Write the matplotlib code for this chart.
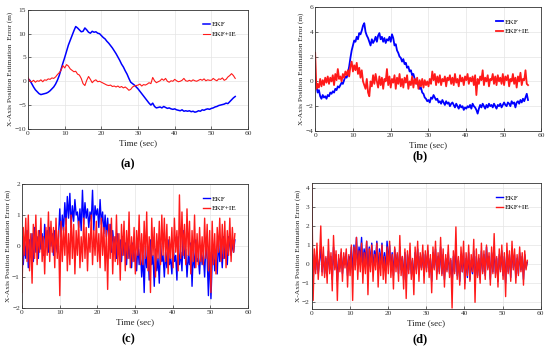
import numpy as np
import matplotlib
matplotlib.use("Agg")
import matplotlib.pyplot as plt

plt.rcParams['font.family'] = ['Liberation Serif', 'DejaVu Serif']

# ---- (a) sampled every 0.5 s ----
ekf_a = [0.5, 0.2, -0.5, -1.2, -1.8, -2.2, -2.6, -2.8, -2.7, -2.6, -2.5, -2.3, -2.0, -1.6, -1.2, -0.6,
         0.2, 1.2, 2.5, 3.8, 5.0, 6.3, 7.6, 8.6, 9.6, 10.6, 11.5, 11.2, 10.8, 10.4, 10.5, 11.2,
         10.8, 10.3, 10.1, 10.5, 10.3, 10.4, 10.1, 10.0, 9.6, 9.2, 8.9, 8.4, 8.0, 7.5, 7.0, 6.4,
         5.8, 5.1, 4.4, 3.6, 3.0, 2.2, 1.5, 0.6, -0.2, -0.5, -0.8, -1.2, -1.6, -2.1, -2.6, -3.1,
         -3.6, -4.1, -4.6, -5.0, -4.6, -5.3, -5.6, -5.5, -5.4, -5.6, -5.3, -5.5, -5.7, -5.6, -5.8, -5.9,
         -5.8, -6.0, -6.1, -6.2, -6.0, -6.3, -6.2, -6.3, -6.2, -6.4, -6.3, -6.5, -6.4, -6.2, -6.3, -6.0,
         -6.1, -5.9, -5.8, -5.9, -5.7, -5.6, -5.4, -5.3, -5.1, -5.0, -4.9, -4.8, -4.6, -4.7, -4.3, -3.9,
         -3.5, -3.2]
ekfie_a = [0.8, 0.0, -0.1, 0.2, -0.2, 0.1, 0.0, 0.3, -0.1, 0.3, 0.2, 0.5, 0.4, 0.7, 0.6, 0.9,
           1.4, 1.8, 2.3, 3.3, 2.8, 3.5, 3.2, 2.6, 2.3, 2.0, 2.1, 1.5, 1.3, 0.6, -0.5, -0.9,
           0.2, 1.0, 0.4, -0.3, 0.1, 0.3, -0.1, 0.0, -0.2, -0.4, -0.6, -0.8, -0.9, -0.8, -1.1, -1.0,
           -1.2, -1.0, -1.3, -1.1, -1.4, -1.2, -1.5, -1.9, -1.7, -1.2, -1.0, -0.9, -0.8, -0.6, -1.0, -0.7,
           -0.8, -0.6, -0.3, -0.5, 0.8, 0.1, -0.3, -0.1, 0.1, 0.5, 0.2, 0.6, 0.0, -0.2, 0.1, 0.0,
           0.4, 0.1, -0.1, 0.0, 0.2, 0.6, 0.1, 0.0, 0.2, 0.0, 0.3, 0.1, 0.0, 0.2, 0.4, 0.2,
           0.5, 0.1, 0.3, 0.2, 0.2, 0.6, 0.3, 0.1, 0.5, 0.4, 0.7, 0.2, 0.4, 0.9, 1.2, 1.6,
           1.2, 0.6]

# ---- (b) ----
ekf_b = [0.3, -0.4, -0.9, -0.7, -1.2, -1.4, -1.1, -1.3, -1.2, -1.4,
         -1.1, -1.2, -0.9, -1.0, -0.8, -0.9, -0.6, -0.7, -0.4, -0.5,
         -0.3, -0.1, -0.2, 0.1, 0.4, 0.3, 0.7, 1.2, 1.9, 2.5,
         2.9, 3.3, 3.2, 3.6, 3.4, 3.9, 3.8, 4.1, 4.5, 4.7,
         4.0, 3.7, 3.5, 3.2, 2.9, 3.4, 3.1, 3.3, 3.6, 3.2,
         3.7, 3.9, 3.4, 3.6, 3.2, 3.5, 3.1, 3.4, 3.3, 3.6,
         3.2, 3.8, 3.5, 2.9, 3.0, 2.5, 2.3, 2.0, 1.9, 1.6,
         1.8, 1.4, 1.5, 1.1, 1.2, 0.8, 0.9, 0.5, 0.6, 0.2,
         0.1, -0.2, -0.3, -0.6, -0.5, -0.9, -1.0, -1.3, -1.4, -1.6,
         -1.5, -1.7, -1.3, -1.4, -1.1, -1.3, -1.5, -1.4, -1.7, -1.6,
         -1.8, -1.5, -1.7, -1.9, -1.6, -1.8, -1.7, -2.0, -1.8, -1.7,
         -1.9, -2.1, -1.8, -2.0, -2.2, -1.9, -2.1, -2.0, -2.3, -2.1,
         -2.2, -2.0, -2.1, -1.9, -2.2, -1.8, -2.0, -2.1, -2.3, -2.6,
         -2.2, -1.9, -2.1, -1.8, -2.0, -2.2, -1.9, -2.1, -1.8, -2.0,
         -1.9, -2.1, -1.8, -2.0, -2.2, -1.9, -2.0, -1.8, -2.1, -1.9,
         -1.7, -1.9, -2.0, -1.7, -1.8, -2.0, -1.6, -1.8, -1.7, -2.1,
         -1.7, -1.6, -1.8, -1.5, -1.7, -1.4, -1.6, -1.3, -1.0, -1.5]
ekfie_b = [2.3, -0.6, -0.2, -0.5, 0.2, -0.4, 0.1, -0.3, 0.3, -0.1,
           0.4, -0.2, 0.3, 0.0, 0.5, -0.3, 0.6, 0.1, 1.0, 0.2,
           0.4, 0.0, 0.6, 0.3, 0.8, 0.5, 0.9, 0.4, 1.2, 1.6,
           0.8, 1.3, 0.9, 1.5, 0.6, 1.1, 0.3, 0.9, 0.0, -0.3,
           -0.6, 0.2, -0.9, -1.2, 0.0, -0.4, 0.5, -0.2, 0.6, 0.0,
           -0.5, 0.4, -0.3, 0.3, -0.6, 0.2, 0.0, 1.0, -0.3, 0.4,
           -0.5, 0.2, -0.1, 0.5, -0.6, 0.3, -0.2, 0.6, -0.4, 0.2,
           -0.5, 0.3, -0.1, 0.5, -0.6, 0.0, -0.3, 0.4, -0.5, 0.2,
           -0.2, 0.3, -0.6, 0.1, -0.4, 0.2, -0.5, 0.1, -0.3, 0.0,
           -0.4, 0.2, -0.2, 0.8, 0.1, 0.6, -0.3, 0.4, -0.1, 0.5,
           -0.3, 0.2, 0.0, 0.4, -0.4, 0.3, 0.1, 0.5, -0.2, 0.3,
           -0.3, 0.6, -0.1, 0.2, -0.4, 0.5, 0.0, 0.3, -0.3, 0.4,
           0.1, 0.6, -0.2, 0.3, 0.0, 0.4, -0.3, 0.5, -1.1, 0.2,
           -0.2, 0.4, 0.1, 0.9, -0.3, 0.3, 0.0, 0.5, -0.4, 0.2,
           0.1, 0.6, -0.2, 0.4, -0.3, 0.5, 0.0, 0.3, -0.2, 0.6,
           -0.3, 0.4, 0.1, 0.5, -0.4, 0.2, 0.0, 0.6, -0.2, 0.3,
           -0.5, 0.4, 0.0, 0.7, -0.3, 0.2, 0.1, 0.9, -0.2, -0.3]

# ---- (c) ----
ekf_c = [0.3, -0.6, 0.1, -0.4, 0.5, -0.7, 0.2, -0.3, 0.4, -0.5, 0.6, -0.2, 0.3, -0.4, 0.5,
         -0.1, 0.4, -0.3, 0.7, 0.1, 0.5, -0.2, 0.6, 0.0, 0.4, -0.3, 0.5, 0.1, -0.2, 0.3,
         1.2, 0.3, 1.0, 0.5, 1.4, 0.7, 1.6, 0.9, 1.7, 0.6, 1.3, 0.8, 1.5, 1.0, 1.1, 0.6, 1.2, 0.5,
         1.8, 0.7, 1.4, 0.9, 1.2, 0.6, 1.1, 0.8, 1.8, 0.5, 1.3, 1.0, 1.2, 0.6, 1.5, 0.7, 1.1, 0.4,
         1.0, 0.3, 0.9, 0.2, 0.7, -0.2, 0.5, 0.0, 0.3, -0.4, 0.4, -0.2,
         0.2, -0.5, 0.3, -0.3, 0.1, -0.6, 0.2, -0.4, 0.0, -0.7, 0.1, -0.5,
         -0.2, -0.8, 0.1, -0.6, -0.1, -1.0, -0.3, -1.5, 0.0, -0.7,
         -0.2, -1.1, 0.2, -0.6, -0.3, -1.3, -0.1, -0.8, -0.4, -1.2,
         0.1, -0.5, -0.3, -1.0, -0.2, -0.7, 0.2, -0.6, -0.4, -0.9,
         0.0, -0.5, -0.3, -1.1, 0.3, -0.6, -0.2, -0.8, 0.5, -0.4,
         -0.1, -1.0, -0.3, -0.6, 0.1, -1.3, -0.2, -0.7, 0.2, -0.5,
         -0.4, -0.9, 0.0, -0.6, -0.3, -1.0, 0.1, -0.4, -1.6, -0.2,
         -1.7, -0.5, 0.0, -0.8, -0.3, -0.9, 0.2, -0.5, -0.1, -0.7,
         0.3, -0.4, -0.2, -0.6, 0.3, 0.0, -0.3, 0.1, -0.2, 0.2]
ekfie_c = [-1.5, 0.6, -0.3, 0.9, -0.5, 1.0, -0.8, 0.4, -1.2, 0.7, -0.4, 1.0, -0.6, 0.5, -0.2,
           0.9, -0.5, 0.3, -0.9, 0.6, -0.3, 1.1, -0.5, 0.8, -0.2, 0.6, -0.7, 0.9, -0.4, 0.5,
           -1.6, 0.8, -0.5, 0.6, -0.3, 0.9, -0.8, 0.4, -0.6, 1.0, -0.4, 0.7, -0.9, 0.5, -0.3, 0.8,
           -0.7, 0.3, -0.5, 0.9, -0.4, 0.6, -0.8, 0.4, -0.2, 1.0, -0.6, 0.5, -0.3, 0.8, -0.5, 0.4,
           -0.7, 0.9, -0.3, 0.6,
           -0.8, 0.5, -1.4, 0.7, -0.4, 0.9, -0.9, 0.3, -0.5, 1.0, -0.6, 0.4,
           -1.1, 0.7, -0.3, 0.8, -0.8, 0.5, -0.4, 1.1, -0.7, 0.3, -0.5, 0.6,
           -0.9, 0.5, -0.3, 1.0, -0.6, 0.4, -0.6, 0.8, -0.4, 1.1,
           -0.8, 0.3, -1.5, 0.9, -0.3, 0.6, -1.0, 0.4, -0.4, 0.8,
           -0.6, 1.0, -0.3, 0.9, -0.5, 0.7, -0.9, 0.3, -0.4, 0.6,
           -0.7, 0.9, -0.2, 0.5, -0.8, 1.65, -0.4, 1.1, -0.3, 0.7,
           -0.6, 1.2, -0.3, 0.8, -0.9, 0.5, -0.5, 1.0, -0.7, 0.4,
           -0.6, 0.6, -0.5, 0.3, -0.6, 0.9, -0.4, 0.7, -0.8, 0.5,
           -1.5, 0.8, -0.6, 0.4, -0.9, 0.6, -0.2, 0.9, -0.5, 0.7,
           -0.4, 0.8, -0.7, 0.5, -0.3, 0.9, -0.5, 0.6, -0.2, 0.4]

# ---- (d) ----
ekf_d = [0.2, -0.9, 0.5, -0.3, 0.6, -0.5, 0.2, 0.8, -0.4, 0.5,
         -0.5, 0.3, -0.6, 0.7, -0.3, 0.4, -0.8, 0.9, -0.2, 0.5,
         -0.9, 0.3, -0.2, 0.6, -0.5, 0.4, 0.0, 0.6, -0.6, 0.4,
         0.2, 0.9, -0.5, 1.0, 0.1, 1.4, -0.2, 0.9, 0.3, 1.4,
         -0.1, 0.8, 0.2, 1.2, -0.5, 0.9, 0.1, 1.1, -0.3, 0.7,
         0.3, 1.2, -0.4, 0.8, 0.0, 1.1, -0.2, 0.6, -0.3, 1.2,
         0.1, 1.0, -0.3, 0.6, -0.6, 0.8, -0.1, 0.5, -0.5, 0.9,
         -0.3, 0.4, -0.8, 0.6, -0.9, 0.5, -0.3, 0.7, -0.5, 0.2,
         -0.8, 0.6, -0.3, 0.8, -0.5, 0.4, -0.2, 0.6, -0.6, 0.5,
         -0.2, 0.7, -0.4, 0.3, -0.9, 0.6, -0.2, 0.8, -0.5, 0.4,
         -0.4, 0.9, -0.5, 0.5, -0.8, 0.3, -0.3, 0.6, -0.5, 0.2,
         -1.0, 0.4, -0.4, 0.9, -0.6, 0.2, -0.9, 0.5, -0.4, 0.6,
         -1.0, 0.3, -0.7, 0.6, -0.8, 0.2, -0.5, 0.7, -1.1, 0.4,
         -0.6, 0.3, -0.8, 0.7, -0.4, 0.5, -0.6, 0.9, -0.2, 0.4,
         -0.8, 0.6, -0.4, 0.8, -0.5, 0.3, -0.9, 0.5, -0.3, 0.7,
         -0.6, 0.4, -1.0, 0.7, -0.4, 0.5, -0.7, 0.8, -0.2, 0.5,
         -0.7, 0.3, -0.5, 0.6, -0.3, 0.4, -0.8, 0.5, -0.2, 0.1]
ekfie_d = [4.2, -1.9, 0.8, -0.5, 1.1, -0.8, 0.3, 2.0, -0.6, 0.9,
           -0.7, 0.4, -1.0, 1.3, -0.5, 0.6, -1.4, 1.5, -0.3, 0.7,
           -1.9, 0.5, -0.4, 0.8, -0.9, 0.6, -0.2, 0.8, -1.2, 0.5,
           -0.6, 1.0, -1.9, 0.9, -0.3, 1.4, -0.8, 0.7, -0.4, 1.1,
           -1.0, 0.6, -0.5, 1.2, -1.6, 0.8, -0.4, 1.0, -0.9, 0.5,
           -0.3, 1.1, -1.2, 0.6, -0.6, 1.0, -0.8, 0.4, -1.0, 0.9,
           -0.5, 1.2, -0.7, 0.5, -1.3, 0.9, -0.4, 0.6, -0.9, 1.5,
           -0.6, 0.4, -1.3, 0.8, -1.8, 0.7, -0.5, 1.1, -0.8, 0.3,
           -1.6, 0.9, -0.5, 1.2, -0.9, 0.6, -0.3, 1.0, -1.0, 0.7,
           -0.4, 1.0, -0.7, 0.5, -1.5, 0.9, -0.3, 1.2, -0.8, 0.6,
           -0.5, 1.4, -0.6, 0.8, -1.2, 0.5, -0.4, 1.0, -0.7, 0.3,
           -2.3, 0.7, -0.5, 1.95, -0.8, 0.4, -1.1, 0.9, -0.4, 1.2,
           -1.3, 0.6, -0.6, 1.0, -0.9, 0.5, -0.4, 1.3, -2.0, 0.8,
           -0.7, 0.5, -1.0, 1.1, -0.5, 0.7, -0.8, 1.0, -0.3, 0.6,
           -1.1, 0.9, -0.5, 1.6, -0.7, 0.4, -1.2, 0.8, -0.4, 1.0,
           -0.8, 0.6, -1.7, 1.1, -0.5, 0.7, -0.9, 1.2, -0.3, 0.8,
           -1.0, 0.5, -0.6, 0.9, -0.4, 0.6, -1.1, 0.7, -0.3, 0.2]

panels = [
    # ekf, ekf+ie, axes rect, ylim, yticks, ylabel, tag, tag position, line widths
    (ekf_a, ekfie_a, [0.051, 0.635, 0.400, 0.337], (-10, 15), [-10, -5, 0, 5, 10, 15],
     'X-Axis Position Estimation  Error (m)', '(a)', (0.233, 0.525), (1.1, 0.8)),
    (ekf_b, ekfie_b, [0.573, 0.629, 0.411, 0.351], (-4, 6), [-4, -2, 0, 2, 4, 6],
     'X-Axis Position Estimation Error (m)', '(b)', (0.764, 0.548), (1.3, 1.3)),
    (ekf_c, ekfie_c, [0.040, 0.1275, 0.411, 0.351], (-2, 2), [-2, -1, 0, 1, 2],
     'X-Axis Position Estimation Error (m)', '(c)', (0.233, 0.030), (1.0, 1.0)),
    (ekf_d, ekfie_d, [0.567, 0.1246, 0.416, 0.357], (-2.35, 4.25), [-2, -1, 0, 1, 2, 3, 4],
     'X-Axis Position Estimation Error (m)', '(d)', (0.764, 0.030), (1.0, 1.0)),
]

fig = plt.figure(figsize=(5.5, 3.53), dpi=100)

for ekf, ekfie, rect, ylim, yticks, ylabel, tag, tagpos, lws in panels:
    ax = fig.add_axes(rect)
    t1 = np.linspace(0, 56.5, len(ekf))
    t2 = np.linspace(0, 56.5, len(ekfie))
    ax.plot(t1, ekf, color='#0000ff', lw=lws[0], label='EKF')
    ax.plot(t2, ekfie, color='#ff1a1a', lw=lws[1], label='EKF+IE')
    ax.set_xlim(0, 60)
    ax.set_ylim(*ylim)
    ax.set_xticks([0, 10, 20, 30, 40, 50, 60])
    ax.set_yticks(yticks)
    ax.grid(True, color='#e4e4e4', lw=0.5)
    ax.set_axisbelow(True)
    ax.tick_params(direction='in', length=2, width=0.5, labelsize=5.3, pad=1.5, colors='#333333')
    for s in ax.spines.values():
        s.set_linewidth(0.6)
        s.set_color('#333333')
    ax.set_xlabel('Time (sec)', fontsize=6.5, labelpad=2.5, color='#222222')
    ax.set_ylabel(ylabel, fontsize=5.3, labelpad=1, color='#222222')
    ax.legend(loc='upper right', fontsize=5.2, frameon=False, handlelength=1.0,
              handletextpad=0.2, borderaxespad=1.2, labelspacing=0.5)
    fig.text(tagpos[0], tagpos[1], tag, fontsize=9, fontweight='bold', ha='center')

fig.savefig('out.png', dpi=100)
